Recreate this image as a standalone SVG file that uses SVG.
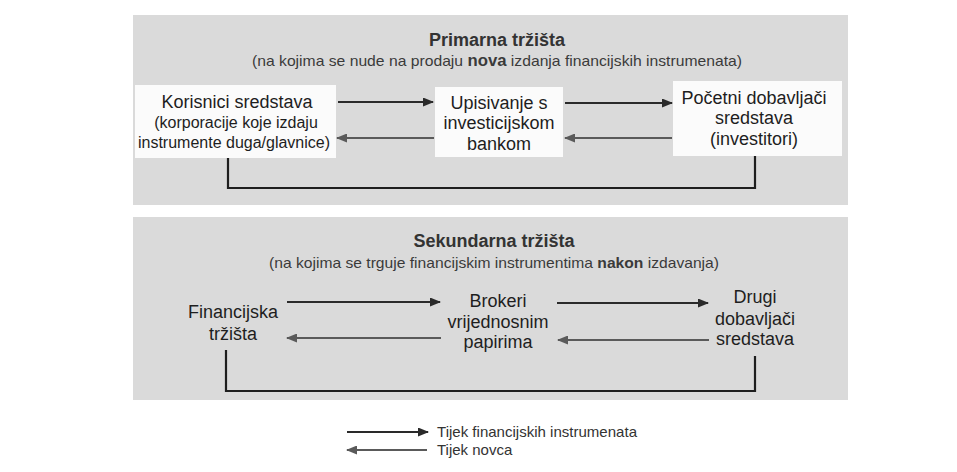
<svg xmlns="http://www.w3.org/2000/svg" width="957" height="472" viewBox="0 0 957 472">
<defs>
<marker id="ah" markerWidth="11" markerHeight="9" refX="10" refY="4.5" orient="auto" markerUnits="userSpaceOnUse"><path d="M0,0 L11,4.5 L0,9 Z" fill="#2a2a2a"/></marker>
<marker id="ahm" markerWidth="11" markerHeight="9" refX="10" refY="4.5" orient="auto" markerUnits="userSpaceOnUse"><path d="M0,0 L11,4.5 L0,9 Z" fill="#5a5a5a"/></marker>
</defs>
<style>
text{font-family:"Liberation Sans",Arial,sans-serif;fill:#1e1e1e;text-anchor:middle}
.t{font-size:18px;font-weight:bold;fill:#333}
.s{font-size:15px;fill:#3a3a3a}
.n{font-size:18px}
.ns{font-size:16px}
.box{fill:#fbfbfb}
.fi{stroke:#2a2a2a;stroke-width:2.2;fill:none;marker-end:url(#ah)}
.mo{stroke:#5a5a5a;stroke-width:2.2;fill:none;marker-end:url(#ahm)}
.loop{stroke:#1e1e1e;stroke-width:2.2;fill:none}
.lg{font-size:15px;text-anchor:start;fill:#333}
</style>
<rect width="957" height="472" fill="#fff"/>
<rect x="133" y="15" width="715" height="190" fill="#dadada"/>
<rect x="133" y="217" width="715" height="183" fill="#dadada"/>
<g id="primary-title"><text class="t" x="497" y="46">Primarna tržišta</text>
<text class="s" x="497" y="66" textLength="490" lengthAdjust="spacingAndGlyphs">(na kojima se nude na prodaju <tspan font-weight="bold" font-size="16">nova</tspan> izdanja financijskih instrumenata)</text></g>
<g id="korisnici"><rect class="box" x="135" y="85" width="201" height="73"/>
<text class="n" x="237" y="108">Korisnici sredstava</text>
<text class="ns" x="236" y="128">(korporacije koje izdaju</text>
<text class="ns" x="234" y="148">instrumente duga/glavnice)</text></g>
<g id="upisivanje"><rect class="box" x="435" y="87" width="128" height="70"/>
<text class="n" x="499" y="109">Upisivanje s</text>
<text class="n" x="499" y="129">investicijskom</text>
<text class="n" x="499" y="150">bankom</text></g>
<g id="pocetni"><rect class="box" x="673" y="81" width="169" height="75"/>
<text class="n" x="754" y="104">Početni dobavljači</text>
<text class="n" x="754" y="124">sredstava</text>
<text class="n" x="754" y="145">(investitori)</text></g>
<g id="secondary-title"><text class="t" x="494" y="247">Sekundarna tržišta</text>
<text class="s" x="494" y="268" textLength="450" lengthAdjust="spacingAndGlyphs">(na kojima se trguje financijskim instrumentima <tspan font-weight="bold">nakon</tspan> izdavanja)</text></g>
<g id="financijska"><text class="n" x="233" y="318">Financijska</text><text class="n" x="233" y="340">tržišta</text></g>
<g id="brokeri"><text class="n" x="498" y="307">Brokeri</text><text class="n" x="498" y="328">vrijednosnim</text><text class="n" x="498" y="348">papirima</text></g>
<g id="drugi"><text class="n" x="755" y="303">Drugi</text><text class="n" x="755" y="325">dobavljači</text><text class="n" x="755" y="345">sredstava</text></g>
<g id="connectors">
<line class="fi" x1="338" y1="102" x2="433" y2="102"/>
<line class="mo" x1="434" y1="138" x2="337" y2="138"/>
<line class="fi" x1="565" y1="103" x2="672" y2="103"/>
<line class="mo" x1="672" y1="138" x2="565" y2="138"/>
<path class="loop" d="M228,158 V188 H755 V156"/>
<line class="fi" x1="287" y1="302" x2="440" y2="302"/>
<line class="mo" x1="441" y1="338" x2="287" y2="338"/>
<line class="fi" x1="557" y1="303" x2="708" y2="303"/>
<line class="mo" x1="709" y1="340" x2="558" y2="340"/>
<path class="loop" d="M226,350 V391 H755 V356"/>
</g>
<g id="legend">
<line class="fi" x1="347" y1="432" x2="428" y2="432" stroke-width="1.6"/>
<text class="lg" x="437" y="437" textLength="200" lengthAdjust="spacingAndGlyphs">Tijek financijskih instrumenata</text>
<line class="mo" x1="427" y1="450" x2="347" y2="450" stroke-width="1.6"/>
<text class="lg" x="437" y="455">Tijek novca</text>
</g>
</svg>
